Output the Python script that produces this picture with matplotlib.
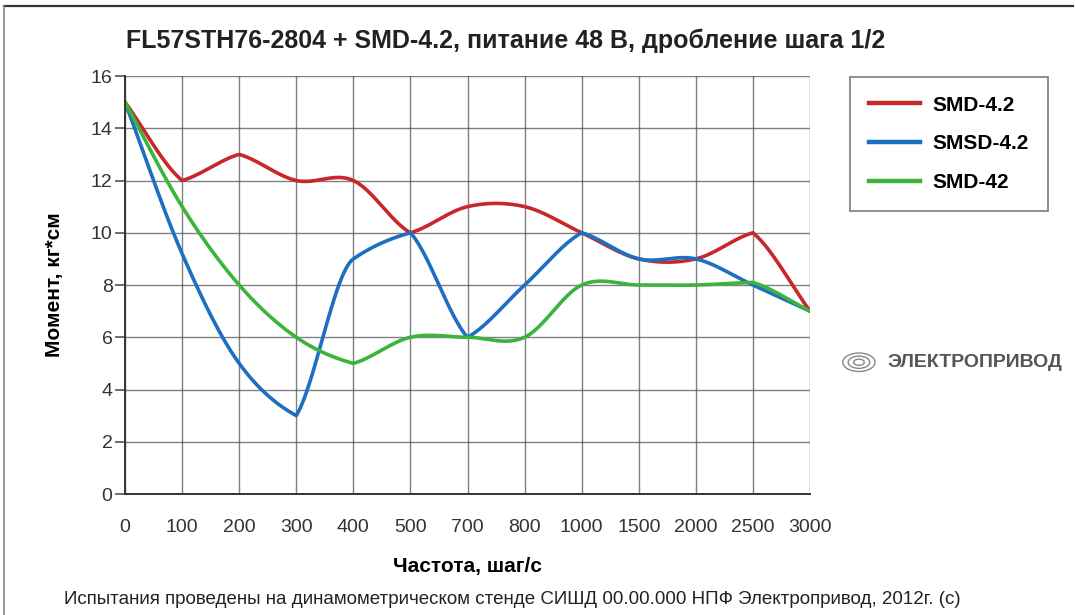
import numpy as np
import matplotlib
matplotlib.use("Agg")
import matplotlib.pyplot as plt
from matplotlib.patches import Circle
from matplotlib.lines import Line2D

# data
freq_labels = ["0", "100", "200", "300", "400", "500", "700", "800",
               "1000", "1500", "2000", "2500", "3000"]
smd_4_2 = [15, 12, 13, 12, 12, 10, 11, 11, 10, 9, 9, 10, 7]
smsd_4_2 = [15, 9.2, 5, 3, 9, 10, 6, 8, 10, 9, 9, 8, 7]
smd_42 = [15, 11, 8, 6, 5, 6, 6, 6, 8, 8, 8, 8.1, 7]

series = [
    ("SMD-4.2", smd_4_2, "#c8282a"),
    ("SMSD-4.2", smsd_4_2, "#1c6fc2"),
    ("SMD-42", smd_42, "#3cb43c"),
]


def smooth(y, corner=0.6, n=30):
    """Hermite curve through the points: smooth where the series runs on,
    slightly rounded corners at peaks and dips (as in the original drawing)."""
    y = np.asarray(y, dtype=float)
    d = np.diff(y)
    left = np.zeros_like(y)   # tangent arriving at a point
    right = np.zeros_like(y)  # tangent leaving a point
    left[0] = right[0] = d[0]
    left[-1] = right[-1] = d[-1]
    for i in range(1, len(y) - 1):
        d0, d1 = d[i - 1], d[i]
        if d0 * d1 < 0:
            left[i], right[i] = corner * d0, corner * d1
        else:
            m = (d0 + d1) / 2
            if d0 * d1 > 0:
                lim = 1.5 * min(abs(d0), abs(d1))
                m = np.sign(m) * min(abs(m), lim)
            left[i] = right[i] = m
    t = np.linspace(0, 1, n)
    h00 = 2 * t ** 3 - 3 * t ** 2 + 1
    h10 = t ** 3 - 2 * t ** 2 + t
    h01 = -2 * t ** 3 + 3 * t ** 2
    h11 = t ** 3 - t ** 2
    xs, ys = [], []
    for i in range(len(y) - 1):
        xs.append(i + t)
        ys.append(h00 * y[i] + h10 * right[i] + h01 * y[i + 1] + h11 * left[i + 1])
    return np.concatenate(xs), np.concatenate(ys)


plt.rcParams["font.family"] = ["Liberation Sans", "DejaVu Sans"]

fig = plt.figure(figsize=(10.75, 6.15), dpi=100)
ax = fig.add_axes([0.1163, 0.1967, 0.6372, 0.6797])

for name, vals, color in series:
    xs, ys = smooth(vals)
    ax.plot(xs, ys, color=color, lw=2.6, label=name, solid_capstyle="round",
            solid_joinstyle="round")

ax.set_xlim(0, len(freq_labels) - 1)
ax.set_ylim(0, 16)
ax.set_xticks(range(len(freq_labels)))
ax.set_xticklabels(freq_labels)
ax.set_yticks(range(0, 17, 2))
ax.grid(True, color="#555555", lw=1.0, alpha=0.75)
ax.set_axisbelow(True)
for side in ("top", "right"):
    ax.spines[side].set_visible(False)
for side in ("left", "bottom"):
    ax.spines[side].set_color("#333333")
    ax.spines[side].set_linewidth(1.4)
ax.tick_params(axis="y", labelsize=14, labelcolor="#333333", color="#555555",
               length=7, width=1.2, direction="out", pad=2)
ax.tick_params(axis="x", labelsize=14, labelcolor="#333333", length=0, pad=18)

ax.set_xlabel("Частота, шаг/с", fontsize=15, fontweight="bold", labelpad=15)
ax.set_ylabel("Момент, кг*см", fontsize=15, fontweight="bold", labelpad=19)

handles = [Line2D([], [], color=c, lw=3.2) for _, _, c in series]
leg = fig.legend(handles, [s[0] for s in series], loc="upper left",
                 bbox_to_anchor=(0.791, 0.875), frameon=True, fancybox=False,
                 prop={"weight": "bold", "size": 15},
                 handlelength=2.45, handletextpad=0.6, labelspacing=0.95,
                 borderpad=0.9, borderaxespad=0, edgecolor="#666666")
leg.get_frame().set_linewidth(1.3)

cond = ["Liberation Sans Narrow", "Liberation Sans", "DejaVu Sans"]
fig.text(0.47, 0.934, "FL57STH76-2804 + SMD-4.2, питание 48 В, дробление шага 1/2",
         ha="center", va="center", fontsize=18, fontweight="bold",
         color="#222222", family=cond)
fig.text(0.06, 0.025,
         "Испытания проведены на динамометрическом стенде СИШД 00.00.000 НПФ Электропривод, 2012г. (с)",
         ha="left", va="center", fontsize=13.5, color="#222222", family=cond)

# company mark
fig.text(0.826, 0.411, "ЭЛЕКТРОПРИВОД", ha="left", va="center", fontsize=14,
         color="#555555", fontweight="bold")
for r in (0.005, 0.010, 0.015):
    fig.add_artist(Circle((0.799, 0.411), r, transform=fig.transFigure,
                          fill=False, ec="#888888", lw=1.0))

# frame of the original picture: only top and left edges are visible
fig.add_artist(Line2D([0.004, 0.998], [0.991, 0.991], transform=fig.transFigure,
                      color="#333333", lw=1.6))
fig.add_artist(Line2D([0.004, 0.004], [0.0, 0.991], transform=fig.transFigure,
                      color="#888888", lw=1.2))

fig.savefig("out.png", dpi=100)
